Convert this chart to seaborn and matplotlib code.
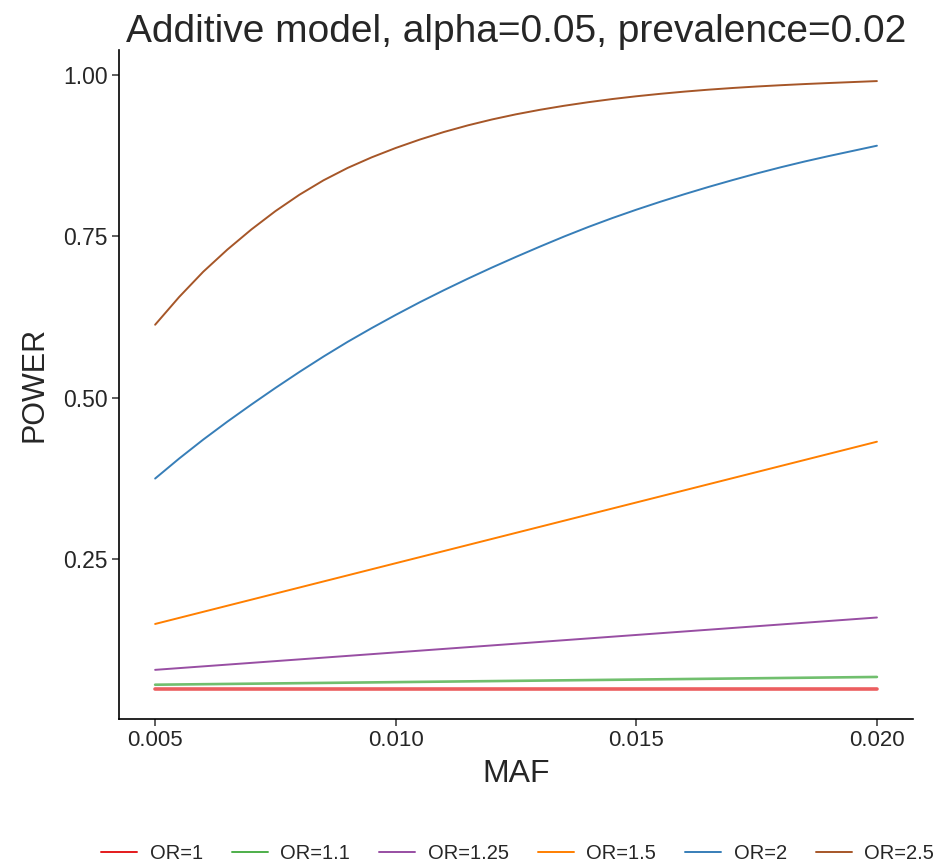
import matplotlib
matplotlib.use("Agg")
import matplotlib.pyplot as plt
import seaborn as sns
import pandas as pd

# Minor allele frequencies at which power was evaluated (step 0.0005)
maf = [0.0050, 0.0055, 0.0060, 0.0065, 0.0070, 0.0075, 0.0080, 0.0085,
       0.0090, 0.0095, 0.0100, 0.0105, 0.0110, 0.0115, 0.0120, 0.0125,
       0.0130, 0.0135, 0.0140, 0.0145, 0.0150, 0.0155, 0.0160, 0.0165,
       0.0170, 0.0175, 0.0180, 0.0185, 0.0190, 0.0195, 0.0200]

# Power for each odds ratio
power_or_1 = [0.050] * 31
power_or_1_1 = [0.0560, 0.0564, 0.0568, 0.0572, 0.0576, 0.0580, 0.0584, 0.0588,
                0.0592, 0.0596, 0.0600, 0.0604, 0.0608, 0.0612, 0.0616, 0.0620,
                0.0624, 0.0628, 0.0632, 0.0636, 0.0640, 0.0644, 0.0648, 0.0652,
                0.0656, 0.0660, 0.0664, 0.0668, 0.0672, 0.0676, 0.0680]
power_or_1_25 = [0.0790, 0.0817, 0.0844, 0.0871, 0.0898, 0.0925, 0.0952, 0.0979,
                 0.1006, 0.1033, 0.1060, 0.1087, 0.1114, 0.1141, 0.1168, 0.1195,
                 0.1222, 0.1249, 0.1276, 0.1303, 0.1330, 0.1357, 0.1384, 0.1411,
                 0.1438, 0.1465, 0.1492, 0.1519, 0.1546, 0.1573, 0.1600]
power_or_1_5 = [0.1500, 0.1594, 0.1688, 0.1782, 0.1876, 0.1970, 0.2064, 0.2158,
                0.2252, 0.2346, 0.2440, 0.2534, 0.2628, 0.2722, 0.2816, 0.2910,
                0.3004, 0.3098, 0.3192, 0.3286, 0.3380, 0.3474, 0.3568, 0.3662,
                0.3756, 0.3850, 0.3944, 0.4038, 0.4132, 0.4226, 0.4320]
power_or_2 = [0.3750, 0.4060, 0.4353, 0.4630, 0.4895, 0.5152, 0.5400, 0.5638,
              0.5865, 0.6078, 0.6282, 0.6478, 0.6664, 0.6843, 0.7015, 0.7180,
              0.7340, 0.7495, 0.7642, 0.7780, 0.7910, 0.8033, 0.8150, 0.8262,
              0.8368, 0.8470, 0.8566, 0.8656, 0.8740, 0.8820, 0.8900]
power_or_2_5 = [0.6130, 0.6560, 0.6950, 0.7292, 0.7604, 0.7888, 0.8142, 0.8365,
                0.8556, 0.8720, 0.8865, 0.8995, 0.9112, 0.9215, 0.9306, 0.9386,
                0.9456, 0.9518, 0.9573, 0.9622, 0.9665, 0.9703, 0.9737, 0.9767,
                0.9793, 0.9816, 0.9836, 0.9854, 0.9870, 0.9885, 0.9900]

labels = ["OR=1", "OR=1.1", "OR=1.25", "OR=1.5", "OR=2", "OR=2.5"]
series = [power_or_1, power_or_1_1, power_or_1_25, power_or_1_5,
          power_or_2, power_or_2_5]
colors = ["#E41A1C", "#4DAF4A", "#984EA3", "#FF7F00", "#377EB8", "#A65628"]

x_ticks = [0.005, 0.010, 0.015, 0.020]
y_ticks = [0.25, 0.50, 0.75, 1.00]

rows = []
for lab, vals in zip(labels, series):
    for m, p in zip(maf, vals):
        rows.append({"MAF": m, "POWER": p, "OR": lab})
df = pd.DataFrame(rows)

sns.set_theme(style="ticks")
plt.rcParams["font.family"] = ["Liberation Sans", "DejaVu Sans"]

fig = plt.figure(figsize=(9.47, 8.67), dpi=100)
ax = fig.add_axes([0.1257, 0.1707, 0.8384, 0.7716])

sns.lineplot(data=df, x="MAF", y="POWER", hue="OR", hue_order=labels,
             palette=dict(zip(labels, colors)), linewidth=1.4, ax=ax)

# the null (OR=1) curve is drawn heavier and softer
for line, lab in zip(ax.get_lines(), labels):
    if lab == "OR=1":
        line.set_linewidth(2.6)
        line.set_alpha(0.7)
    elif lab == "OR=1.1":
        line.set_linewidth(1.9)
        line.set_alpha(0.8)

ymin, ymax = 0.050, 0.991
pad = (ymax - ymin) * 0.05
ax.set_ylim(ymin - pad, ymax + pad)
xpad = (0.020 - 0.005) * 0.05
ax.set_xlim(0.005 - xpad, 0.020 + xpad)

ax.set_xticks(x_ticks)
ax.set_xticklabels([f"{v:.3f}" for v in x_ticks])
ax.set_yticks(y_ticks)
ax.set_yticklabels([f"{v:.2f}" for v in y_ticks])
ax.tick_params(axis="both", labelsize=16, colors="#333333", length=5,
               width=1.1, pad=3)
ax.tick_params(axis="y", labelsize=16.5)
ax.tick_params(axis="both", labelcolor="#262626")

for side in ["top", "right"]:
    ax.spines[side].set_visible(False)
for side in ["left", "bottom"]:
    ax.spines[side].set_color("black")
    ax.spines[side].set_linewidth(1.2)

ax.set_xlabel("MAF", fontsize=23, labelpad=6)
ax.set_ylabel("POWER", fontsize=22, labelpad=10)
ax.set_title("Additive model, alpha=0.05, prevalence=0.02", fontsize=28, pad=5)

sns.move_legend(ax, "center", bbox_to_anchor=(0.502, -0.201), ncol=6,
                frameon=False, title=None, fontsize=14.5, handlelength=1.8,
                handletextpad=0.6, columnspacing=1.45)

fig.savefig("out.png", dpi=100)
